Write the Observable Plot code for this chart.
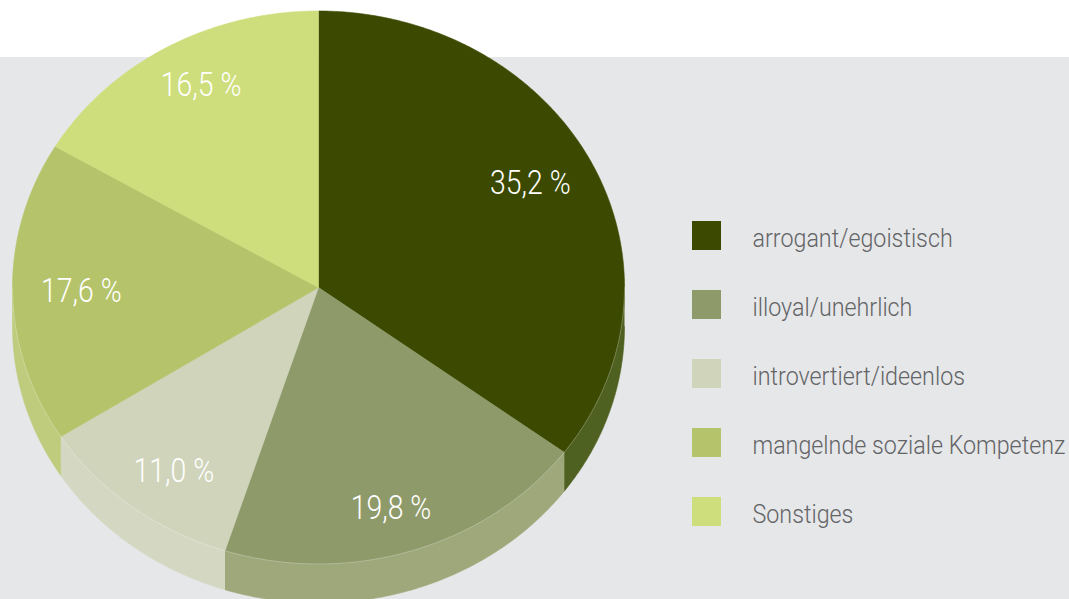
<!DOCTYPE html>
<html>
<head>
<meta charset="utf-8">
<script src="https://cdn.jsdelivr.net/npm/d3@7"></script>
<script src="https://cdn.jsdelivr.net/npm/@observablehq/plot@0.6"></script>
<style>
  html, body { margin: 0; padding: 0; }
  #chart { width: 1069px; height: 599px; background: linear-gradient(#ffffff 0 57px, #e6e7e9 57px); overflow: hidden; }
</style>
</head>
<body>
<div id="chart"></div>
<script>
// ---- data ----
const categories = ["arrogant/egoistisch", "illoyal/unehrlich", "introvertiert/ideenlos", "mangelnde soziale Kompetenz", "Sonstiges"];
const values = [35.2, 19.8, 11.0, 17.6, 16.5];
const valueLabels = ["35,2 %", "19,8 %", "11,0 %", "17,6 %", "16,5 %"];

// ---- styles ----
const topColors = ["#3b4a00", "#8f9a6a", "#cfd4bb", "#b5c46a", "#cede7c"];
const sideColors = ["#4f6120", "#9ea87a", "#d4d8c2", "#bfcc7e", "#d3e08e"];
const FONT = "Roboto, 'Liberation Sans', sans-serif";

// ---- geometry ----
const W = 1069, H = 599;
const cx = 318, cy = 287, rx = 306, ry = 276.5, depth = 39;
const total = d3.sum(values);
const toRad = Math.PI / 180;

function pt(a, dy = 0) { // a in degrees clockwise from 12 o'clock
  return {x: cx + rx * Math.sin(a * toRad), y: cy - ry * Math.cos(a * toRad) + dy};
}
function arc(a0, a1, dy = 0) {
  const n = Math.max(2, Math.ceil(Math.abs(a1 - a0) / 0.5));
  return d3.range(n + 1).map(k => pt(a0 + (a1 - a0) * k / n, dy));
}

let acc = 0;
const slices = values.map((v, i) => {
  const a0 = acc / total * 360;
  acc += v;
  const a1 = acc / total * 360;
  return {i, cat: categories[i], a0, a1};
});

const marks = [];
// side walls (front half: 90..270 degrees)
for (const s of slices) {
  const lo = Math.max(s.a0, 90), hi = Math.min(s.a1, 270);
  if (hi > lo) {
    const poly = [...arc(lo, hi), ...arc(hi, lo, depth)];
    marks.push(Plot.line(poly, {x: "x", y: "y", fill: sideColors[s.i], stroke: sideColors[s.i], strokeWidth: 0.6}));
  }
}
// top faces
for (const s of slices) {
  const poly = [{x: cx, y: cy}, ...arc(s.a0, s.a1), {x: cx, y: cy}];
  marks.push(Plot.line(poly, {x: "x", y: "y", fill: topColors[s.i], stroke: topColors[s.i], strokeWidth: 0.6}));
}
// subtle rim highlight on the front edge
marks.push(Plot.line(arc(90, 270), {x: "x", y: "y", stroke: "#ffffff", strokeOpacity: 0.35, strokeWidth: 0.8}));

// value labels
const labelPts = slices.map(s => {
  const m = (s.a0 + s.a1) / 2;
  return {x: cx + rx * 0.775 * Math.sin(m * toRad), y: cy - ry * 0.84 * Math.cos(m * toRad), text: valueLabels[s.i]};
});
marks.push(Plot.text(labelPts, {x: "x", y: "y", text: "text", fill: "white", fontSize: 33, fontWeight: 300, fontFamily: FONT, className: "vlabel"}));

// legend
marks.push(Plot.rect(categories, {x1: 692, x2: 721, y1: (d, i) => 221 + 69 * i, y2: (d, i) => 250 + 69 * i, fill: (d, i) => topColors[i]}));
marks.push(Plot.text(categories, {x: 752, y: (d, i) => 238 + 69 * i, text: d => d, textAnchor: "start", fill: "#636466", fontSize: 26, fontWeight: 300, fontFamily: FONT, className: "legtext"}));

const chart = Plot.plot({
  width: W, height: H,
  margin: 0,
  x: {domain: [0, W], range: [0, W], axis: null},
  y: {domain: [0, H], range: [0, H], axis: null},
  style: {background: "transparent", overflow: "visible"},
  marks
});
document.getElementById("chart").appendChild(chart);

// condense text horizontally (reference uses a light condensed face)
function condense(selector, k) {
  chart.querySelectorAll(selector + " text").forEach(t => {
    const L = t.getComputedTextLength();
    t.setAttribute("textLength", (L * k).toFixed(1));
    t.setAttribute("lengthAdjust", "spacingAndGlyphs");
  });
}
condense(".vlabel", 0.86);
condense(".legtext", 0.895);
</script>
</body>
</html>
